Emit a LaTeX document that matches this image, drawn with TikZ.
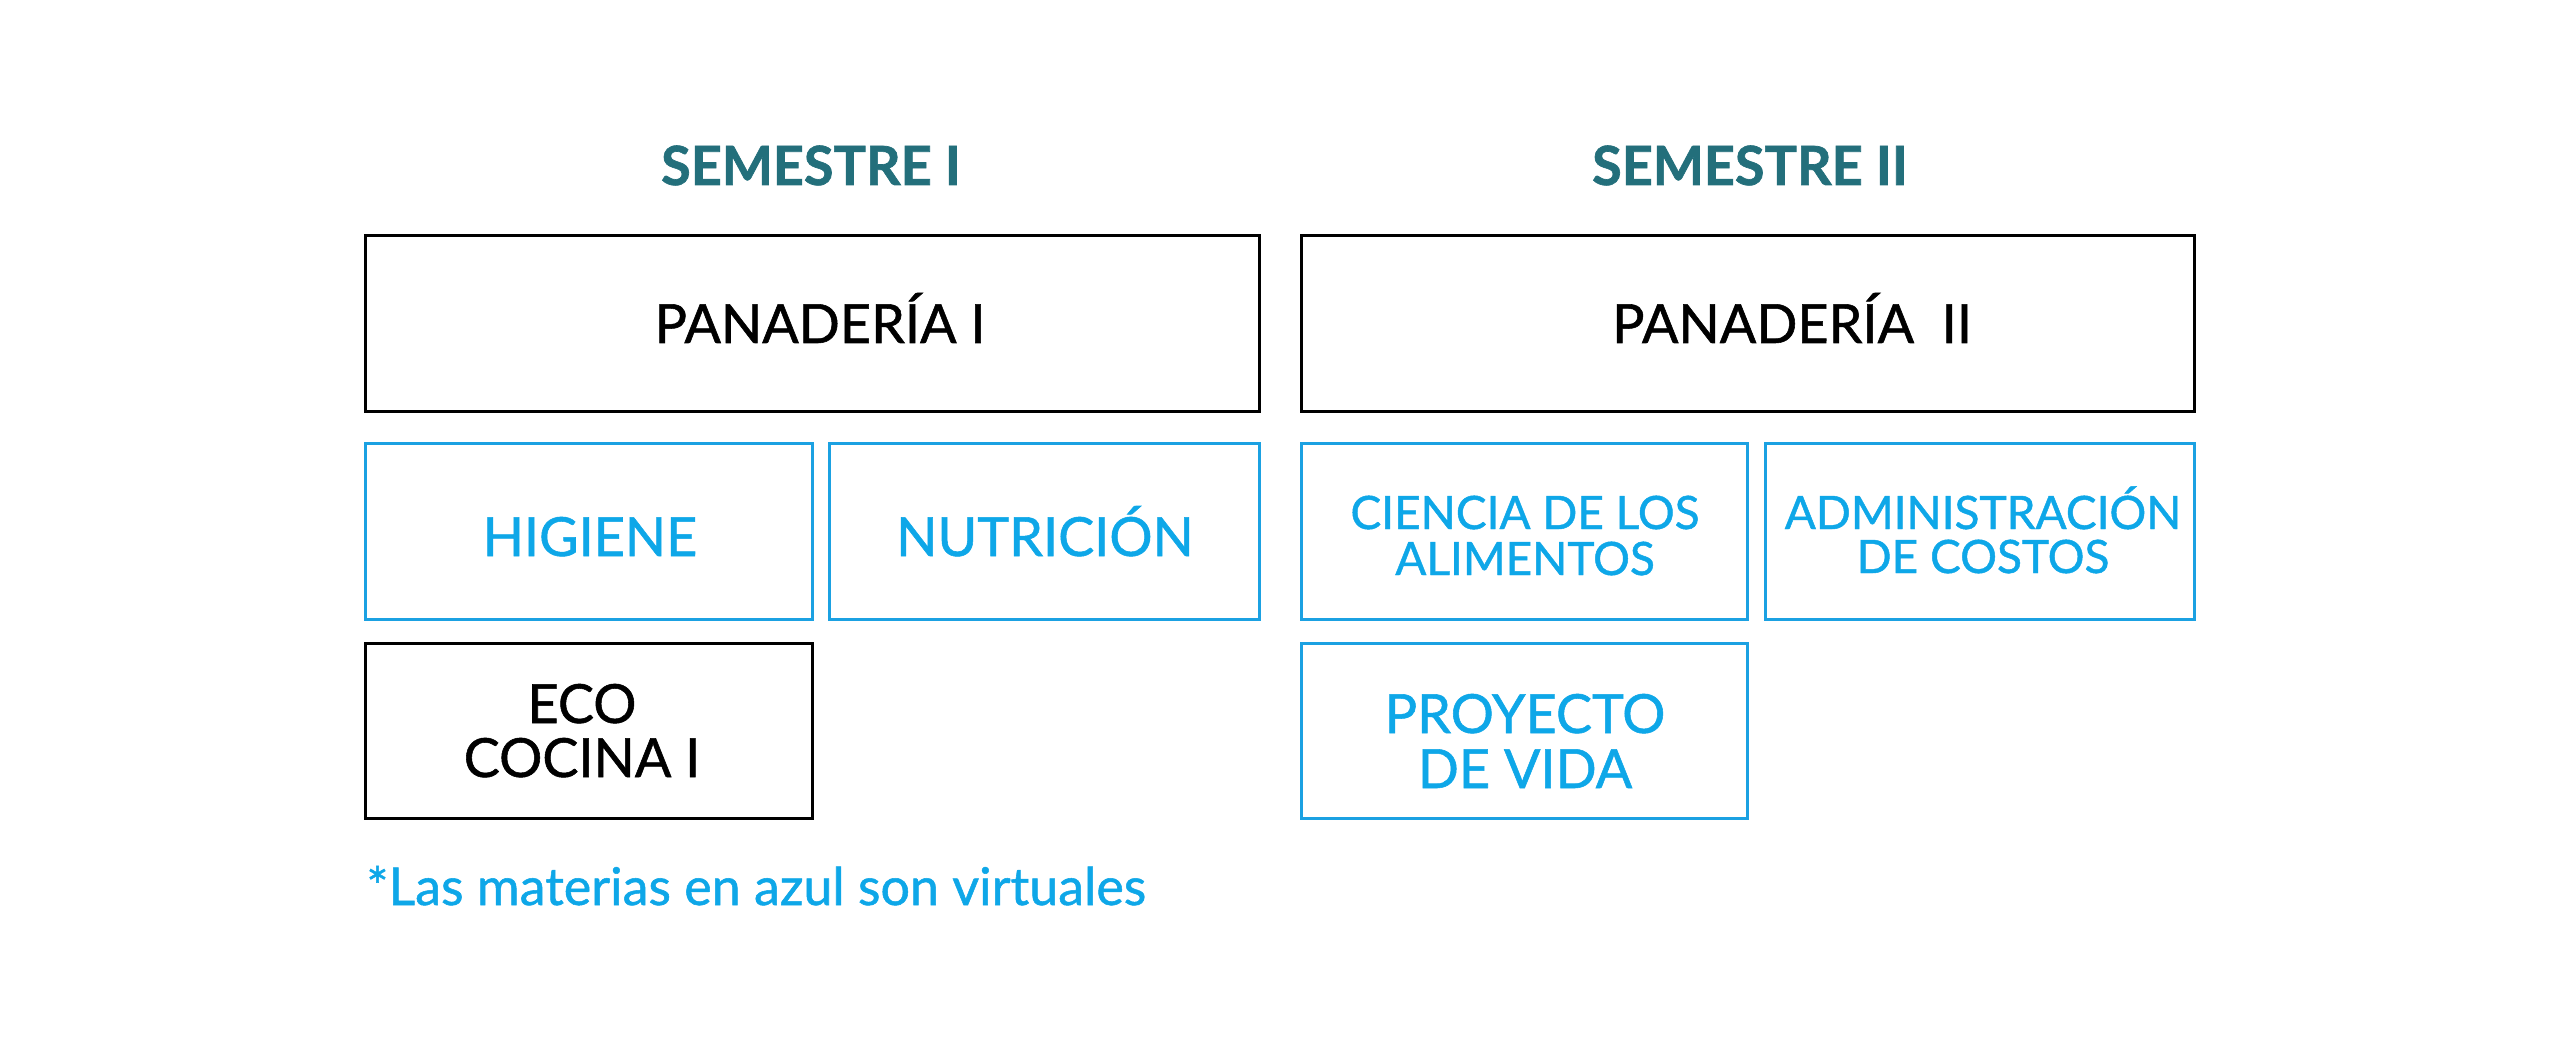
\documentclass[tikz,border=0pt]{standalone}
\usepackage{fontspec}
\setmainfont{Lato}
\newfontfamily\medfont{Lato}[FakeBold=1.0]
\newfontfamily\heavyfont{Lato}[BoldFeatures={FakeBold=1.2}]
\definecolor{tealT}{HTML}{236F7B}
\definecolor{blueL}{HTML}{1BA1E2}
\definecolor{blueT}{HTML}{0EA7E8}
\begin{document}
\begin{tikzpicture}[x=0.5pt,y=-0.5pt,
  blackbox/.style={draw=black,line width=1.5pt,inner sep=0pt,outer sep=0pt},
  bluebox/.style={draw=blueL,line width=1.5pt,inner sep=0pt,outer sep=0pt},
  wide/.style={minimum width=446.75pt,minimum height=87.75pt},
  halfA/.style={minimum width=223.25pt,minimum height=88pt},
  halfB/.style={minimum width=215pt,minimum height=88pt},
  title/.style={anchor=base,inner sep=0pt,text=tealT,font=\heavyfont\fontsize{27pt}{28pt}\selectfont\bfseries},
  bigblack/.style={anchor=base,inner sep=0pt,text=black,font=\medfont\fontsize{27pt}{28pt}\selectfont},
  bigblue/.style={anchor=base,inner sep=0pt,text=blueT,font=\medfont\fontsize{27pt}{28pt}\selectfont},
  smallblue/.style={anchor=base,inner sep=0pt,text=blueT,font=\medfont\fontsize{23pt}{24pt}\selectfont},
  note/.style={anchor=base west,inner sep=0pt,text=blueT,font=\medfont\fontsize{26pt}{27pt}\selectfont}]
\fill[white] (0,0) rectangle (2560,1048);
\useasboundingbox (0,0) rectangle (2560,1048);

% titles
\node[title] (sem1) at (811,185) {SEMESTRE I};
\node[title] (sem2) at (1750,185) {SEMESTRE II};

% boxes
\node[blackbox,wide] (pan1) at (812.25,323.25) {};
\node[blackbox,wide] (pan2) at (1747.75,323.25) {};
\node[bluebox,halfA] (hig) at (588.75,531) {};
\node[bluebox,halfB] (nut) at (1044,531) {};
\node[bluebox,halfA] (cien) at (1524.5,531) {};
\node[bluebox,halfB,minimum width=214.75pt] (adm) at (1979.75,531) {};
\node[blackbox,halfA,minimum height=87.75pt] (eco) at (588.75,730.75) {};
\node[bluebox,halfA,minimum height=87.75pt] (proy) at (1524.5,730.75) {};

% texts
\node[bigblack] (pan1t) at (820,343) {PANADERÍA I};
\node[bigblack] (pan2t) at (1792,343) {PANADERÍA\ \ II};
\node[bigblue] (higt) at (590,556) {HIGIENE};
\node[bigblue] (nutt) at (1045,556) {NUTRICIÓN};
\node[smallblue] (cient1) at (1525,529) {CIENCIA DE LOS};
\node[smallblue] (cient2) at (1525,575) {ALIMENTOS};
\node[smallblue] (admt1) at (1983,529) {ADMINISTRACIÓN};
\node[smallblue] (admt2) at (1983,573) {DE COSTOS};
\node[bigblack] (ecot1) at (582,723) {ECO};
\node[bigblack] (ecot2) at (582,777) {COCINA I};
\node[bigblue] (proyt1) at (1525,733) {PROYECTO};
\node[bigblue] (proyt2) at (1525,788) {DE VIDA};

% footnote
\node[note] (nota) at (366,905) {*Las materias en azul son virtuales};
\end{tikzpicture}
\end{document}
